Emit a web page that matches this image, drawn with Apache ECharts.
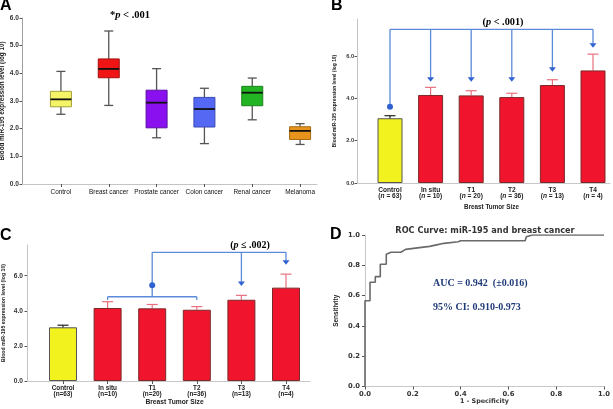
<!DOCTYPE html>
<html><head><meta charset="utf-8">
<script src="https://cdn.jsdelivr.net/npm/echarts@6/dist/echarts.min.js"></script>
<style>html,body{margin:0;padding:0;background:#fff}#c{width:613px;height:409px}</style>
</head><body><div id="c"></div>
<script>
// ---------- Panel A data ----------
const catsA = ['Control','Breast cancer','Prostate cancer','Colon cancer','Renal cancer','Melanoma'];
const boxMin = [2.52, 2.84, 1.67, 1.46, 2.32, 1.43];
const boxQ1  = [2.79, 3.84, 2.03, 2.06, 2.83, 1.61];
const boxMed = [3.06, 4.16, 2.94, 2.71, 3.30, 1.92];
const boxQ3  = [3.35, 4.52, 3.39, 3.13, 3.53, 2.07];
const boxMax = [4.07, 5.53, 4.17, 3.46, 3.83, 2.18];
const ticksA = [0, 1, 2, 3, 4, 5, 6];

// ---------- Panels B and C data ----------
const sizeCats = ['Control','In situ','T1','T2','T3','T4'];
const sizeN    = [63, 10, 20, 36, 13, 4];
const barMean  = [3.06, 4.16, 4.14, 4.06, 4.63, 5.32];
const barErr   = [0.12, 0.36, 0.22, 0.18, 0.25, 0.77];
const ticksBC  = [0, 2, 4, 6];
// significance brackets: vertical [category, fromValue, toValue, end(0 none,1 arrow,2 dot)], horizontal [cat1, cat2, value]
const bVert  = [[0,7.26,3.6,2],[1,7.26,4.79,1],[2,7.26,4.79,1],[3,7.26,4.79,1],[4,7.26,5.26,1],[5,7.26,6.39,1]];
const bHoriz = [[0,5,7.26]];
const cVert  = [[1,4.8,4.62,0],[3,4.8,4.62,0],[2,4.8,7.33,0],[2,5.45,5.45,2],[4,7.33,5.42,1],[5,7.33,6.62,1]];
const cHoriz = [[1,3,4.8],[2,5,7.33]];

// ---------- Panel D data ----------
const rocFpr = [0, 0, 0.021, 0.021, 0.043, 0.043, 0.064, 0.064, 0.089, 0.089, 0.109, 0.15, 0.155, 0.17, 0.22, 0.27, 0.30, 0.33, 0.39, 0.40, 0.67, 0.675, 0.70, 1.0];
const rocTpr = [0, 0.566, 0.566, 0.688, 0.688, 0.725, 0.725, 0.807, 0.807, 0.873, 0.886, 0.886, 0.895, 0.905, 0.915, 0.925, 0.935, 0.945, 0.955, 0.962, 0.962, 0.988, 1.0, 1.0];
const ticksD = [0, 0.2, 0.4, 0.6, 0.8, 1.0];

// ---------- styles ----------
const boxColors  = ['#f4f466','#f01414','#8a10f0','#5468f4','#22b422','#e8941c'];
const boxBorders = ['#a0a040','#a01010','#5a10a0','#3a4ab0','#1a801a','#a86a10'];
const barColors  = ['#f2f21e','#f0142c','#f0142c','#f0142c','#f0142c','#f0142c'];
const barBorders = ['#555','#7a2a2a','#7a2a2a','#7a2a2a','#7a2a2a','#7a2a2a'];
const errColors  = ['#222','#e8707e','#e8707e','#e8707e','#e8707e','#e8707e'];
const errLowerShown = [true, false, false, false, false, false];
const SANS = 'Liberation Sans, Arial, sans-serif';
const SERIF = 'Liberation Serif, Times New Roman, serif';
const DV = 'DejaVu Sans, sans-serif';
const NAVY = '#1f3a78';
const BR = '#5b8ad8', BRD = '#2f62d0';

const chart = echarts.init(document.getElementById('c'), null, {renderer: 'canvas'});

function renderBox(params, api) {
  const i = api.value(0);
  const pMin = api.coord([i, api.value(1)]);
  const pQ1 = api.coord([i, api.value(2)]);
  const pMed = api.coord([i, api.value(3)]);
  const pQ3 = api.coord([i, api.value(4)]);
  const pMax = api.coord([i, api.value(5)]);
  const x = pMed[0], bw = 21, cw = 9;
  const ws = {stroke: '#555', lineWidth: 1.3};
  return {type: 'group', children: [
    {type: 'line', shape: {x1: x, y1: pMax[1], x2: x, y2: pQ3[1]}, style: ws},
    {type: 'line', shape: {x1: x, y1: pQ1[1], x2: x, y2: pMin[1]}, style: ws},
    {type: 'line', shape: {x1: x - cw/2, y1: pMax[1], x2: x + cw/2, y2: pMax[1]}, style: ws},
    {type: 'line', shape: {x1: x - cw/2, y1: pMin[1], x2: x + cw/2, y2: pMin[1]}, style: ws},
    {type: 'rect', shape: {x: x - bw/2, y: pQ3[1], width: bw, height: pQ1[1] - pQ3[1]}, style: {fill: boxColors[i], stroke: boxBorders[i], lineWidth: 1}},
    {type: 'line', shape: {x1: x - bw/2, y1: pMed[1], x2: x + bw/2, y2: pMed[1]}, style: {stroke: '#111', lineWidth: 1.8}}
  ]};
}

function renderErr(params, api) {
  const i = api.value(0), m = api.value(1), e = api.value(2);
  const pMid = api.coord([i, m]);
  const pHi = api.coord([i, m + e]), pLo = api.coord([i, m - e]);
  const x = pHi[0], cw = 11;
  const st = {stroke: errColors[i], lineWidth: 1.2};
  const ch = [
    {type: 'line', shape: {x1: x, y1: pHi[1], x2: x, y2: pMid[1]}, style: st},
    {type: 'line', shape: {x1: x - cw/2, y1: pHi[1], x2: x + cw/2, y2: pHi[1]}, style: st}
  ];
  if (errLowerShown[i]) {
    ch.push({type: 'line', shape: {x1: x, y1: pMid[1], x2: x, y2: pLo[1]}, style: st});
    ch.push({type: 'line', shape: {x1: x - cw/2, y1: pLo[1], x2: x + cw/2, y2: pLo[1]}, style: st});
  }
  return {type: 'group', children: ch};
}

function renderVert(params, api) {
  const i = api.value(0), y1 = api.value(1), y2 = api.value(2), end = api.value(3);
  const p1 = api.coord([i, y1]), p2 = api.coord([i, y2]);
  const ch = [];
  const dir = p2[1] > p1[1] ? 1 : -1;
  let yEnd = p2[1];
  if (end === 1) yEnd = p2[1] - dir * 4;
  if (p1[1] !== p2[1]) ch.push({type: 'line', shape: {x1: p1[0], y1: p1[1], x2: p2[0], y2: yEnd}, style: {stroke: BR, lineWidth: 1.3}});
  if (end === 1) ch.push({type: 'polygon', shape: {points: [[p2[0] - 3.5, p2[1] - 4.5], [p2[0] + 3.5, p2[1] - 4.5], [p2[0], p2[1]]]}, style: {fill: BRD}});
  if (end === 2) ch.push({type: 'circle', shape: {cx: p2[0], cy: p2[1], r: 3}, style: {fill: BRD}});
  return {type: 'group', children: ch};
}

function renderHoriz(params, api) {
  const a = api.coord([api.value(0), api.value(2)]);
  const b = api.coord([api.value(1), api.value(2)]);
  return {type: 'line', shape: {x1: a[0], y1: a[1], x2: b[0], y2: b[1]}, style: {stroke: BR, lineWidth: 1.3}};
}

const lbl = (size, extra) => Object.assign({fontFamily: SANS, fontWeight: 'bold', fontSize: size, color: '#333'}, extra || {});
const hiddenCat = (grid, cats, labelCfg, tickOn, nameCfg) => Object.assign({
  type: 'category', gridIndex: grid, data: cats,
  axisLine: {show: false}, splitLine: {show: false},
  axisTick: {show: tickOn, alignWithLabel: true, length: 3, lineStyle: {color: '#555'}},
  axisLabel: labelCfg
}, nameCfg || {});
const bareX = (grid, color) => ({type: 'value', gridIndex: grid, min: 0, max: 1, axisLine: {show: true, lineStyle: {color: color}}, axisTick: {show: false}, axisLabel: {show: false}, splitLine: {show: false}});
const hiddenY = (grid, max) => ({type: 'value', gridIndex: grid, min: 0, max: max, show: false});

const option = {
  animation: false,
  backgroundColor: '#fff',
  grid: [
    {left: 22, top: 18, width: 295, height: 166, outerBoundsMode: 'none'},
    {left: 37, top: 18, width: 287, height: 166, outerBoundsMode: 'none'},
    {left: 357, top: 19, width: 253, height: 164, outerBoundsMode: 'none'},
    {left: 369.7, top: 19, width: 243.6, height: 164, outerBoundsMode: 'none'},
    {left: 27, top: 245, width: 283, height: 136, outerBoundsMode: 'none'},
    {left: 40.7, top: 245, width: 267.6, height: 136, outerBoundsMode: 'none'},
    {left: 365, top: 235, width: 239, height: 151.5, outerBoundsMode: 'none'}
  ],
  xAxis: [
    bareX(0, '#c4c4c4'),
    hiddenCat(1, catsA, {fontFamily: SANS, fontSize: 6.4, color: '#111', margin: 5, interval: 0}, true),
    bareX(2, '#c8c8c8'),
    hiddenCat(3, sizeCats, {
      interval: 0, margin: 4, lineHeight: 6.3,
      formatter: (v, idx) => '{b|' + v + '}\n{b|(}{i|n}{b| = ' + sizeN[idx] + ')}',
      rich: {b: lbl(6.6, {lineHeight: 6.3, color: '#222'}), i: lbl(6.6, {lineHeight: 6.3, fontStyle: 'italic', color: '#222'})}
    }, false, {name: 'Breast Tumor Size', nameLocation: 'middle', nameGap: 21, nameTextStyle: lbl(6.3, {color: '#222'})}),
    bareX(4, '#c8c8c8'),
    hiddenCat(5, sizeCats, {
      interval: 0, margin: 4, lineHeight: 6,
      formatter: (v, idx) => '{b|' + v + '}\n{b|(n=' + sizeN[idx] + ')}',
      rich: {b: lbl(6.4, {lineHeight: 6, color: '#222'})}
    }, true, {name: 'Breast Tumor Size', nameLocation: 'middle', nameGap: 17.5, nameTextStyle: lbl(6.7, {color: '#222'})}),
    {type: 'value', gridIndex: 6, min: 0, max: 1, interval: 0.2,
      axisLine: {lineStyle: {color: '#c8c8c8'}}, axisTick: {length: 3, lineStyle: {color: '#555'}},
      axisLabel: {margin: 4, formatter: v => v.toFixed(1), fontFamily: DV, fontWeight: 'bold', fontSize: 6.8, color: '#333'},
      splitLine: {show: false},
      name: '1 - Specificity', nameLocation: 'middle', nameGap: 11, nameTextStyle: {fontFamily: DV, fontWeight: 'bold', fontSize: 6.4, color: '#333'}}
  ],
  yAxis: [
    {type: 'value', gridIndex: 0, min: 0, max: 6, interval: 1,
      axisLine: {show: true, lineStyle: {color: '#a0a0a0'}}, axisTick: {show: true, length: 2.5, lineStyle: {color: '#555'}},
      axisLabel: {margin: 3, formatter: v => v.toFixed(1), fontFamily: SANS, fontWeight: 'bold', fontSize: 6.6, color: '#333'},
      splitLine: {show: false},
      name: 'Blood miR-195 expression level (log 10)', nameLocation: 'middle', nameGap: 16.5,
      nameTextStyle: lbl(6.3, {color: '#222'})},
    hiddenY(1, 6),
    {type: 'value', gridIndex: 2, min: 0, max: 7.75, interval: 2,
      axisLine: {show: true, lineStyle: {color: '#c4c4c4'}},
      axisTick: {show: true, length: 2.5, lineStyle: {color: '#555'}, customValues: ticksBC},
      axisLabel: {margin: 3, customValues: ticksBC, formatter: v => v.toFixed(1), fontFamily: SANS, fontWeight: 'bold', fontSize: 5.6, color: '#333'},
      splitLine: {show: false},
      name: 'Blood miR-195 expression level (log 10)', nameLocation: 'middle', nameGap: 19.5,
      nameTextStyle: lbl(4.9, {color: '#222'})},
    hiddenY(3, 7.75),
    {type: 'value', gridIndex: 4, min: 0, max: 7.75, interval: 2,
      axisLine: {show: true, lineStyle: {color: '#c4c4c4'}},
      axisTick: {show: true, length: 2.5, lineStyle: {color: '#555'}, customValues: ticksBC},
      axisLabel: {margin: 4, customValues: ticksBC, formatter: v => v.toFixed(1), fontFamily: SANS, fontWeight: 'bold', fontSize: 6.6, color: '#333'},
      splitLine: {show: false},
      name: 'Blood miR-195 expression level (log 10)', nameLocation: 'middle', nameGap: 20.5,
      nameTextStyle: lbl(5.2, {color: '#222'})},
    hiddenY(5, 7.75),
    {type: 'value', gridIndex: 6, min: 0, max: 1, interval: 0.2,
      axisLine: {lineStyle: {color: '#c8c8c8'}}, axisTick: {length: 3, lineStyle: {color: '#555'}},
      axisLabel: {margin: 5, formatter: v => v.toFixed(1), fontFamily: DV, fontWeight: 'bold', fontSize: 6.8, color: '#333'},
      splitLine: {show: false},
      name: 'Sensitivity', nameLocation: 'middle', nameGap: 26, nameTextStyle: lbl(6.4, {color: '#222'})}
  ],
  series: [
    {type: 'custom', xAxisIndex: 1, yAxisIndex: 1, renderItem: renderBox,
      encode: {x: 0, y: [1, 2, 3, 4, 5]},
      data: catsA.map((c, i) => [i, boxMin[i], boxQ1[i], boxMed[i], boxQ3[i], boxMax[i]])},
    // Panel B
    {type: 'bar', xAxisIndex: 3, yAxisIndex: 3, barWidth: 25,
      data: barMean.map((v, i) => ({value: v, itemStyle: {color: barColors[i], borderColor: barBorders[i], borderWidth: 1}}))},
    {type: 'custom', xAxisIndex: 3, yAxisIndex: 3, renderItem: renderErr, encode: {x: 0, y: 1},
      data: barMean.map((v, i) => [i, v, barErr[i]])},
    {type: 'custom', xAxisIndex: 3, yAxisIndex: 3, renderItem: renderHoriz, encode: {x: [0, 1], y: 2}, data: bHoriz},
    {type: 'custom', xAxisIndex: 3, yAxisIndex: 3, renderItem: renderVert, encode: {x: 0, y: [1, 2]}, data: bVert},
    // Panel C
    {type: 'bar', xAxisIndex: 5, yAxisIndex: 5, barWidth: 28,
      data: barMean.map((v, i) => ({value: v, itemStyle: {color: barColors[i], borderColor: barBorders[i], borderWidth: 1}}))},
    {type: 'custom', xAxisIndex: 5, yAxisIndex: 5, renderItem: renderErr, encode: {x: 0, y: 1},
      data: barMean.map((v, i) => [i, v, barErr[i]])},
    {type: 'custom', xAxisIndex: 5, yAxisIndex: 5, renderItem: renderHoriz, encode: {x: [0, 1], y: 2}, data: cHoriz},
    {type: 'custom', xAxisIndex: 5, yAxisIndex: 5, renderItem: renderVert, encode: {x: 0, y: [1, 2]}, data: cVert},
    // Panel D
    {type: 'line', xAxisIndex: 6, yAxisIndex: 6, showSymbol: false, symbol: 'none',
      lineStyle: {color: '#6a6a6a', width: 1.6},
      data: rocFpr.map((x, i) => [x, rocTpr[i]])}
  ],
  graphic: [
    {type: 'text', left: 0, top: -2, style: {text: 'A', font: 'bold 16px ' + SANS, fill: '#000'}},
    {type: 'text', left: 331, top: -2, style: {text: 'B', font: 'bold 16px ' + SANS, fill: '#000'}},
    {type: 'text', left: 0, top: 228, style: {text: 'C', font: 'bold 16px ' + SANS, fill: '#000'}},
    {type: 'text', left: 330, top: 227, style: {text: 'D', font: 'bold 16px ' + SANS, fill: '#000'}},
    {type: 'text', x: 130, y: 15, style: {
      text: '{s|*}{i|p}{s| < .001}', align: 'center', verticalAlign: 'middle',
      rich: {s: {fontFamily: SERIF, fontWeight: 'bold', fontSize: 10.5, color: NAVY},
             i: {fontFamily: SERIF, fontWeight: 'bold', fontStyle: 'italic', fontSize: 10.5, color: NAVY}}}},
    {type: 'text', x: 503, y: 22, style: {
      text: '{s|(}{i|p}{s| < .001)}', align: 'center', verticalAlign: 'middle',
      rich: {s: {fontFamily: SERIF, fontWeight: 'bold', fontSize: 10.3, color: NAVY},
             i: {fontFamily: SERIF, fontWeight: 'bold', fontStyle: 'italic', fontSize: 10.3, color: NAVY}}}},
    {type: 'text', x: 250, y: 245, style: {
      text: '{s|(}{i|p}{s| ≤ .002)}', align: 'center', verticalAlign: 'middle',
      rich: {s: {fontFamily: SERIF, fontWeight: 'bold', fontSize: 10, color: NAVY},
             i: {fontFamily: SERIF, fontWeight: 'bold', fontStyle: 'italic', fontSize: 10, color: NAVY}}}},
    {type: 'text', x: 485, y: 231, style: {text: 'ROC Curve: miR-195 and breast cancer', align: 'center', verticalAlign: 'middle',
      font: 'bold 8.2px ' + DV, fill: '#333'}},
    {type: 'text', x: 433, y: 283, style: {text: 'AUC = 0.942  (±0.016)', verticalAlign: 'middle',
      font: 'bold 10px ' + SERIF, fill: NAVY}},
    {type: 'text', x: 433, y: 307, style: {text: '95% CI: 0.910-0.973', verticalAlign: 'middle',
      font: 'bold 10px ' + SERIF, fill: NAVY}}
  ]
};
chart.setOption(option);
</script>
</body></html>
